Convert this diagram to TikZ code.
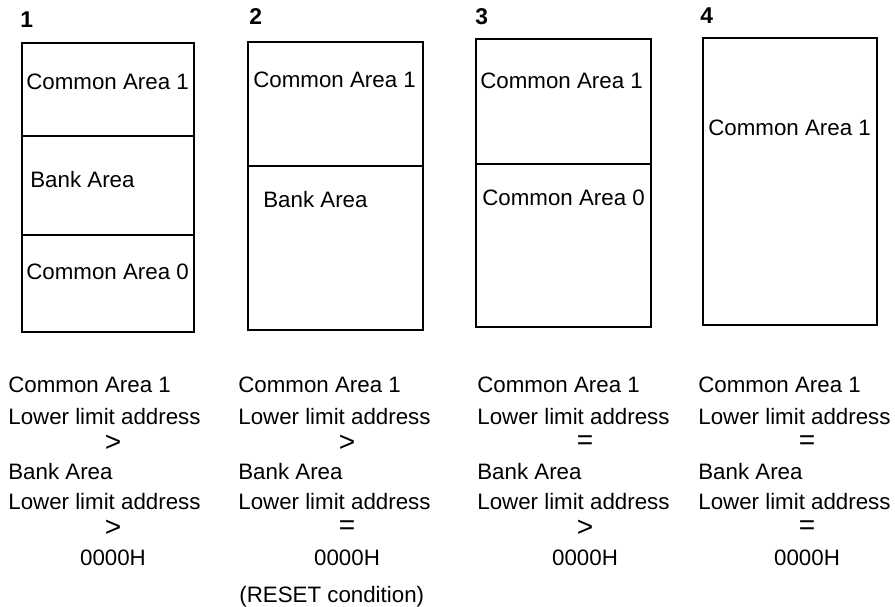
\documentclass[tikz,border=0pt]{standalone}
\usepackage{fontspec}
\setmainfont{Liberation Sans}
\tikzset{
  memBox/.style={draw,line width=1.1pt},
  areaText/.style={anchor=west,inner sep=0pt,font=\fontsize{12.7}{15}\selectfont},
  numText/.style={anchor=west,inner sep=0pt,font=\fontsize{13}{15}\selectfont\bfseries},
  condText/.style={anchor=west,inner sep=0pt,font=\fontsize{12.7}{15}\selectfont},
  relSym/.style={inner sep=0pt,font=\fontsize{16}{18}\selectfont},
  zeroText/.style={inner sep=0pt,font=\fontsize{12.7}{15}\selectfont}
}

\begin{document}
\begin{tikzpicture}[x=0.02cm,y=-0.02cm]
  \useasboundingbox (0,0) rectangle (895,606);
  % the four memory maps
  \draw[memBox] (22,43) rectangle (194,332);
  \draw[memBox] (22,136) -- (194,136);
  \draw[memBox] (22,235) -- (194,235);
  \draw[memBox] (248,42) rectangle (423,330);
  \draw[memBox] (248,166) -- (423,166);
  \draw[memBox] (476,39) rectangle (651,327);
  \draw[memBox] (476,164) -- (651,164);
  \draw[memBox] (703,38) rectangle (877,325);
  \node[numText] (num1) at (20,20) {1};
  \node[numText] (num2) at (249,17) {2};
  \node[numText] (num3) at (475,17) {3};
  \node[numText] (num4) at (700,16) {4};
  \node[areaText] (ca1a) at (26,82) {Common Area 1};
  \node[areaText] (bnka) at (30,180) {Bank Area};
  \node[areaText] (ca0a) at (26,272) {Common Area 0};
  \node[areaText] (ca1b) at (253,80) {Common Area 1};
  \node[areaText] (bnkb) at (263,200) {Bank Area};
  \node[areaText] (ca1c) at (480,81) {Common Area 1};
  \node[areaText] (ca0c) at (482,198) {Common Area 0};
  \node[areaText] (ca1d) at (708,128) {Common Area 1};
  % conditions under each map
  \foreach \n/\x/\c/\ra/\rb in {1/8/113/>/>,2/238/347/>/=,3/477/585/=/>,4/698/807/=/=}{
    \node[condText] (top\n)  at (\x,385) {Common Area 1};
    \node[condText] (lowA\n) at (\x,417) {Lower limit address};
    \node[relSym]   (relA\n) at (\c,443) {\ra};
    \node[condText] (bank\n) at (\x,472) {Bank Area};
    \node[condText] (lowB\n) at (\x,502) {Lower limit address};
    \node[relSym]   (relB\n) at (\c,528) {\rb};
    \node[zeroText] (zero\n) at (\c,558) {0000H};
  }
  \node[condText] (reset) at (239,597) {(RESET condition)};
\end{tikzpicture}
\end{document}
